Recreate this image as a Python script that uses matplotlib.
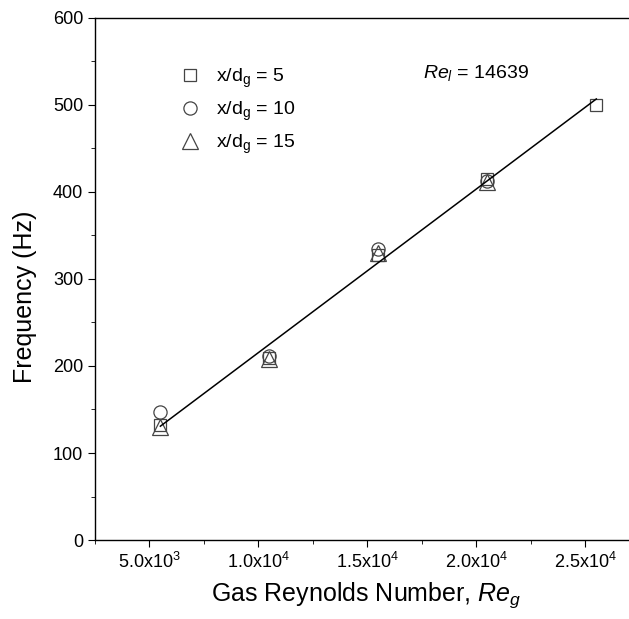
import numpy as np
import matplotlib
matplotlib.use('Agg')
import matplotlib.pyplot as plt
from matplotlib.ticker import MultipleLocator

plt.rcParams['font.family'] = ['Liberation Sans', 'DejaVu Sans']
plt.rcParams['mathtext.fontset'] = 'custom'
plt.rcParams['mathtext.rm'] = 'Liberation Sans'
plt.rcParams['mathtext.it'] = 'Liberation Sans:italic'

# data
re_g = [5500, 10500, 15500, 20500, 25500]
freq_x5 = [132, 209, 328, 415, 500]
re_g_short = [5500, 10500, 15500, 20500]
freq_x10 = [147, 211, 335, 413]
freq_x15 = [130, 208, 330, 411]
labels = ['x/d$_\\mathrm{g}$ = 5', 'x/d$_\\mathrm{g}$ = 10', 'x/d$_\\mathrm{g}$ = 15']
re_l_text = '$\\it{Re}_{\\it{l}}$ = 14639'
xtick_vals = [5000, 10000, 15000, 20000, 25000]
xtick_labels = ['5.0x10$^3$', '1.0x10$^4$', '1.5x10$^4$', '2.0x10$^4$', '2.5x10$^4$']

fig = plt.figure(figsize=(6.29, 6.19), dpi=100)
ax = fig.add_axes([0.151, 0.1276, 0.849, 0.8434])

mk = dict(linestyle='none', markerfacecolor='none', markeredgecolor='#444444',
          markeredgewidth=0.9)
ax.plot(re_g, freq_x5, marker='s', markersize=9, label=labels[0], **mk)
ax.plot(re_g_short, freq_x10, marker='o', markersize=9.5, label=labels[1], **mk)
ax.plot(re_g_short, freq_x15, marker='^', markersize=11, label=labels[2], **mk)

# linear fit through all points
all_x = np.array(re_g + re_g_short + re_g_short)
all_y = np.array(freq_x5 + freq_x10 + freq_x15)
k, b = np.polyfit(all_x, all_y, 1)
xf = np.array([re_g[0], re_g[-1]])
ax.plot(xf, k * xf + b, color='black', linewidth=1.1)

ax.set_xlim(2500, 27000)
ax.set_ylim(0, 600)
ax.xaxis.set_minor_locator(MultipleLocator(2500))
ax.yaxis.set_major_locator(MultipleLocator(100))
ax.yaxis.set_minor_locator(MultipleLocator(50))
ax.set_xticks(xtick_vals)
ax.set_xticklabels(xtick_labels)
ax.tick_params(which='both', direction='out', labelsize=13)
ax.tick_params(which='major', length=5)
ax.tick_params(which='minor', length=3)
ax.spines['right'].set_visible(False)
for s in ax.spines.values():
    s.set_linewidth(1.0)

ax.set_xlabel('Gas Reynolds Number, $\\it{Re}_{\\it{g}}$', fontsize=18)
ax.set_ylabel('Frequency (Hz)', fontsize=18)
ax.xaxis.set_label_coords(0.508, -0.077)
ax.yaxis.set_label_coords(-0.109, 0.466)

ax.legend(loc='upper left', bbox_to_anchor=(0.123, 0.94), frameon=False,
          fontsize=14, handletextpad=0.75, labelspacing=0.5, handlelength=1.2)
ax.text(0.614, 0.8945, re_l_text, transform=ax.transAxes, fontsize=14, va='center')

fig.savefig('out.png', dpi=100)
